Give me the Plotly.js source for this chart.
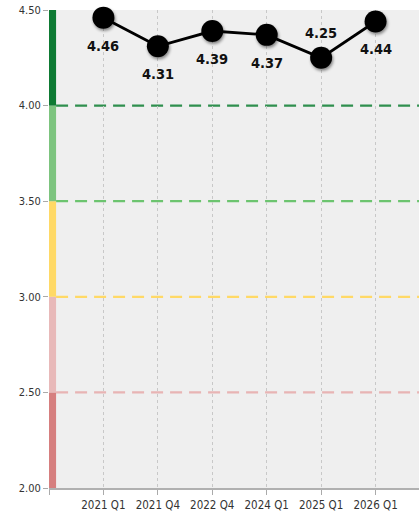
<!DOCTYPE html>
<html><head><meta charset="utf-8">
<script src="https://cdn.plot.ly/plotly-3.0.1.min.js"></script>
<style>
html,body{margin:0;padding:0;overflow:hidden;background:#fff;}
#chart{width:440px;height:516px;}
.scatterlayer .points path{filter:drop-shadow(1px 2px 1.5px rgba(0,0,0,0.45));}
</style></head>
<body><div id="chart"></div>
<script>
const categories = ['2021 Q1','2021 Q4','2022 Q4','2024 Q1','2025 Q1','2026 Q1'];
const values = [4.46, 4.31, 4.39, 4.37, 4.25, 4.44];
const labelSides = ['below','below','below','below','above','below'];
const bandEdges = [2.0, 2.5, 3.0, 3.5, 4.0, 4.5];
const bandColors = ['#d67f7f','#e8b9b9','#ffd966','#7dc47f','#0e7a33'];
const thresholdValues = [2.5, 3.0, 3.5, 4.0];
const thresholdColors = ['#e8b4b4','#ffd966','#6cc46f','#2f8f4e'];
const yTicks = [2.0, 2.5, 3.0, 3.5, 4.0, 4.5];

const xs = categories.map((c,i)=>i+1);
const shapes = [];
for (let i=0;i<bandColors.length;i++){
  shapes.push({type:'rect', xref:'x', yref:'y', x0:0, x1:0.13, y0:bandEdges[i], y1:bandEdges[i+1],
    fillcolor:bandColors[i], line:{width:0}, layer:'above'});
}
thresholdValues.forEach((v,i)=>{
  shapes.push({type:'line', xref:'x', yref:'y', x0:0.13, x1:7, y0:v, y1:v,
    line:{color:thresholdColors[i], width:2.2, dash:'12px,7px'}, layer:'below'});
});

const annotations = values.map((v,i)=>({
  x: xs[i], y: v, xref:'x', yref:'y', text: v.toFixed(2), showarrow:false,
  yshift: labelSides[i]==='above' ? 25 : -28,
  font:{family:'DejaVu Sans Condensed, sans-serif', size:14.5, color:'#111', weight:'bold'}
}));

const trace = {
  x: xs, y: values, type:'scatter', mode:'lines+markers',
  line:{color:'#000', width:2.8},
  marker:{color:'#000', size:22},
  cliponaxis:false, hoverinfo:'skip'
};

const layout = {
  width:440, height:516,
  margin:{l:49, r:10, t:10, b:28},
  paper_bgcolor:'#fff', plot_bgcolor:'#efefef',
  showlegend:false,
  font:{family:'DejaVu Sans Condensed, sans-serif', size:11, color:'#333'},
  xaxis:{range:[0,7], tickvals:[0,1,2,3,4,5,6], ticktext:[''].concat(categories),
    showgrid:true, gridcolor:'#c8c8c8', griddash:'dot', gridwidth:1,
    ticks:'outside', ticklen:5, tickcolor:'#aaa', showline:true, linecolor:'#b0b0b0', linewidth:2,
    zeroline:false, tickfont:{size:11.5, color:'#333'}, fixedrange:true},
  yaxis:{range:[2.0,4.5], tickvals:yTicks, ticktext:yTicks.map(v=>v.toFixed(2)),
    showgrid:false, zeroline:false, ticks:'outside', ticklen:5, tickcolor:'#aaa',
    showline:false, tickfont:{size:11, color:'#333'}, fixedrange:true},
  shapes: shapes,
  annotations: annotations
};
Plotly.newPlot('chart',[trace],layout,{staticPlot:true});
</script></body></html>
